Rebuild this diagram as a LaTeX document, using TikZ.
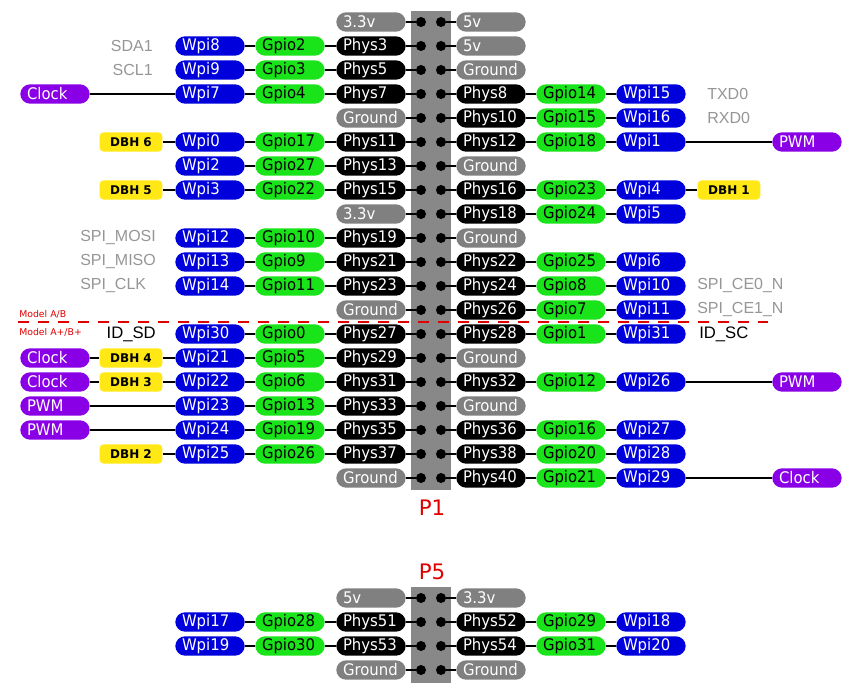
\documentclass[tikz,border=0pt]{standalone}
\usepackage{fontspec}
\setmainfont{DejaVu Sans}
\newfontfamily\pillfont[FakeStretch=0.93]{DejaVu Sans}
\newfontfamily\labfont{Liberation Sans}
\usetikzlibrary{positioning}
\definecolor{pinblue}{RGB}{0,0,220}
\definecolor{pingreen}{RGB}{25,228,25}
\definecolor{pinpurple}{RGB}{138,0,230}
\definecolor{pingray}{RGB}{128,128,128}
\definecolor{pinyellow}{RGB}{255,232,20}
\definecolor{headergray}{RGB}{136,136,136}
\definecolor{labelgray}{RGB}{150,150,150}
\definecolor{pinred}{RGB}{225,0,0}

\begin{document}
\begin{tikzpicture}[x=0.75pt, y=-0.75pt]

        % Définition des styles
        \tikzset{
            box/.style={rounded corners=7.25pt, minimum height=14.5pt, inner ysep=0pt, inner xsep=5pt, text width=42pt, align=left, font=\pillfont\fontsize{12}{13}\selectfont},
            wpi/.style={box, fill=pinblue, text=white},
            gpio/.style={box, fill=pingreen, text=black},
            phys/.style={box, fill=black, text=white},
            power/.style={box, fill=pingray, text=white},
            func/.style={box, fill=pinpurple, text=white},
            dbh/.style={rounded corners=3pt, fill=pinyellow, minimum width=47pt, minimum height=14.5pt, inner sep=0pt, font=\bfseries\fontsize{9}{10}\selectfont},
            pin/.style={circle, fill=black, minimum size=7.5pt, inner sep=0pt},
            wire/.style={line width=2.2pt, black},
            note/.style={text=labelgray, inner sep=0pt, font=\labfont\fontsize{12}{14}\selectfont},
            idnote/.style={text=black, inner sep=0pt, font=\labfont\fontsize{12.5}{14}\selectfont},
            model/.style={text=pinred, inner sep=0pt, font=\fontsize{7}{8}\selectfont},
            title/.style={text=pinred, font=\fontsize{16}{18}\selectfont}
        }

        \useasboundingbox[fill=white] (0,0) rectangle (860,692);

        % --- CONNECTEUR P1 ---
        \fill[headergray] (411,11) rectangle (451,490);
        \node[title] (p1) at (432,508) {P1};

        % côté gauche
        \foreach \r/\w/\g/\p in {2/8/2/3, 3/9/3/5, 4/7/4/7, 6/0/17/11, 7/2/27/13, 8/3/22/15, 10/12/10/19, 11/13/9/21, 12/14/11/23, 14/30/0/27, 15/21/5/29, 16/22/6/31, 17/23/13/33, 18/24/19/35, 19/25/26/37} {
            \node[wpi] (lw\r) at (210,{24*\r-2}) {Wpi\w};
            \node[gpio] (lg\r) at (290,{24*\r-2}) {Gpio\g};
            \node[phys] (lp\r) at (371,{24*\r-2}) {Phys\p};
            \draw[wire] (lw\r) -- (lg\r);
            \draw[wire] (lg\r) -- (lp\r);
        }
        \foreach \r/\t in {1/3.3v, 5/Ground, 9/3.3v, 13/Ground, 20/Ground}
            \node[power] (lp\r) at (371,{24*\r-2}) {\t};

        % côté droit
        \foreach \r/\p/\g/\w in {4/8/14/15, 5/10/15/16, 6/12/18/1, 8/16/23/4, 9/18/24/5, 11/22/25/6, 12/24/8/10, 13/26/7/11, 14/28/1/31, 16/32/12/26, 18/36/16/27, 19/38/20/28, 20/40/21/29} {
            \node[phys] (rp\r) at (491,{24*\r-2}) {Phys\p};
            \node[gpio] (rg\r) at (571,{24*\r-2}) {Gpio\g};
            \node[wpi] (rw\r) at (651,{24*\r-2}) {Wpi\w};
            \draw[wire] (rp\r) -- (rg\r);
            \draw[wire] (rg\r) -- (rw\r);
        }
        \foreach \r/\t in {1/5v, 2/5v, 3/Ground, 7/Ground, 10/Ground, 15/Ground, 17/Ground}
            \node[power] (rp\r) at (491,{24*\r-2}) {\t};

        % broches
        \foreach \r in {1,...,20} {
            \node[pin] (ld\r) at (421,{24*\r-2}) {};
            \node[pin] (rd\r) at (441,{24*\r-2}) {};
            \draw[wire] (lp\r) -- (ld\r);
            \draw[wire] (rp\r) -- (rd\r);
        }

        % --- FONCTIONS (Gauche) ---
        \node[func] (lf4) at (55,94) {Clock};
        \node[dbh] (lb6) at (131,142) {DBH 6};
        \node[dbh] (lb8) at (131,190) {DBH 5};
        \node[func] (lf15) at (55,358) {Clock};
        \node[dbh] (lb15) at (131,358) {DBH 4};
        \node[func] (lf16) at (55,382) {Clock};
        \node[dbh] (lb16) at (131,382) {DBH 3};
        \node[func] (lf17) at (55,406) {PWM};
        \node[func] (lf18) at (55,430) {PWM};
        \node[dbh] (lb19) at (131,454) {DBH 2};
        \draw[wire] (lf4) -- (lw4);
        \draw[wire] (lb6) -- (lw6);
        \draw[wire] (lb8) -- (lw8);
        \draw[wire] (lf15) -- (lb15);
        \draw[wire] (lb15) -- (lw15);
        \draw[wire] (lf16) -- (lb16);
        \draw[wire] (lb16) -- (lw16);
        \draw[wire] (lf17) -- (lw17);
        \draw[wire] (lf18) -- (lw18);
        \draw[wire] (lb19) -- (lw19);

        % --- FONCTIONS (Droite) ---
        \node[func] (rf6) at (807,142) {PWM};
        \node[dbh] (rb8) at (729,190) {DBH 1};
        \node[func] (rf16) at (807,382) {PWM};
        \node[func] (rf20) at (807,478) {Clock};
        \draw[wire] (rw6) -- (rf6);
        \draw[wire] (rw8) -- (rb8);
        \draw[wire] (rw16) -- (rf16);
        \draw[wire] (rw20) -- (rf20);

        % --- ÉTIQUETTES ---
        \node[note, anchor=east] (sda) at (153,46) {SDA1};
        \node[note, anchor=east] (scl) at (153,70) {SCL1};
        \node[note, anchor=west] (mosi) at (80,238) {SPI\_MOSI};
        \node[note, anchor=west] (miso) at (80,262) {SPI\_MISO};
        \node[note, anchor=west] (sclk) at (80,286) {SPI\_CLK};
        \node[idnote, anchor=east] (idsd) at (156,334) {ID\_SD};
        \node[note, anchor=west] (txd) at (707,94) {TXD0};
        \node[note, anchor=west] (rxd) at (707,118) {RXD0};
        \node[note, anchor=west] (ce0) at (697,286) {SPI\_CE0\_N};
        \node[note, anchor=west] (ce1) at (697,310) {SPI\_CE1\_N};
        \node[idnote, anchor=west] (idsc) at (699,334) {ID\_SC};

        % --- LIMITE DES MODÈLES ---
        \coordinate (cutl) at (18,322);
        \coordinate (cutr) at (768,322);
        \draw[pinred, line width=1.5pt, dash pattern=on 8pt off 7pt] (cutl) -- (cutr);
        \node[model, anchor=west] (mab) at (19,314) {Model A/B};
        \node[model, anchor=west] (mabp) at (19,332) {Model A+/B+};

        % --- CONNECTEUR P5 ---
        \fill[headergray] (411,587) rectangle (451,683);
        \node[title] (p5) at (432,572) {P5};
        \node[power] (qp1) at (371,598) {5v};
        \node[power] (sp1) at (491,598) {3.3v};
        \foreach \r/\w/\g/\p/\q/\h/\v in {2/17/28/51/52/29/18, 3/19/30/53/54/31/20} {
            \node[wpi] (qw\r) at (210,{24*\r+574}) {Wpi\w};
            \node[gpio] (qg\r) at (290,{24*\r+574}) {Gpio\g};
            \node[phys] (qp\r) at (371,{24*\r+574}) {Phys\p};
            \node[phys] (sp\r) at (491,{24*\r+574}) {Phys\q};
            \node[gpio] (sg\r) at (571,{24*\r+574}) {Gpio\h};
            \node[wpi] (sw\r) at (651,{24*\r+574}) {Wpi\v};
            \draw[wire] (qw\r) -- (qg\r);
            \draw[wire] (qg\r) -- (qp\r);
            \draw[wire] (sp\r) -- (sg\r);
            \draw[wire] (sg\r) -- (sw\r);
        }
        \node[power] (qp4) at (371,670) {Ground};
        \node[power] (sp4) at (491,670) {Ground};
        \foreach \r in {1,...,4} {
            \node[pin] (qd\r) at (421,{24*\r+574}) {};
            \node[pin] (sd\r) at (441,{24*\r+574}) {};
            \draw[wire] (qp\r) -- (qd\r);
            \draw[wire] (sp\r) -- (sd\r);
        }

    \end{tikzpicture}
\end{document}
